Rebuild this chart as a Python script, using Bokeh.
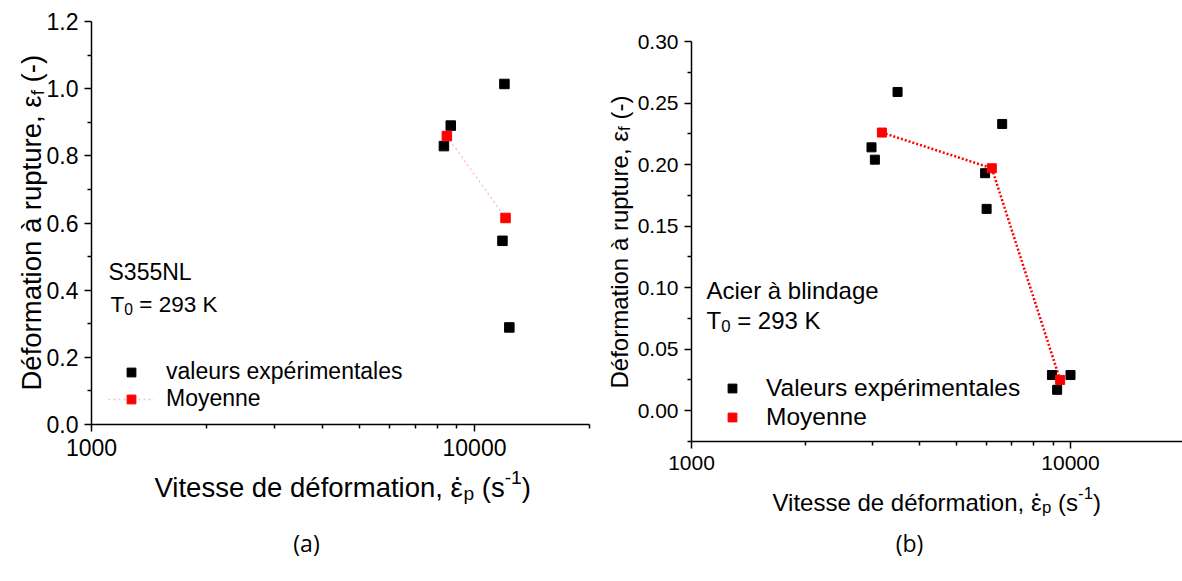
import math
from bokeh.plotting import figure
from bokeh.layouts import row
from bokeh.models import (Range1d, Label, Legend, LegendItem, FixedTicker,
                          PrintfTickFormatter, LogAxis, LinearAxis)
from bokeh.embed import file_html
from bokeh.resources import INLINE

# ---------------- data ----------------
# (a) S355NL
exp_x_a = [8320, 8670, 11970, 11830, 12330]
exp_y_a = [0.829, 0.890, 1.014, 0.547, 0.289]
mean_x_a = [8470, 12050]
mean_y_a = [0.859, 0.615]

# (b) Acier à blindage
exp_x_b = [2985, 3047, 3497, 5953, 6007, 6603, 8933, 9220, 10000]
exp_y_b = [0.214, 0.204, 0.259, 0.193, 0.164, 0.233, 0.029, 0.017, 0.029]
mean_x_b = [3180, 6200, 9390]
mean_y_b = [0.226, 0.197, 0.025]

x_bounds = (1000, 20000)
x_major = [1000, 10000]
x_minor = [2000, 3000, 4000, 5000, 6000, 7000, 8000, 9000, 20000]
y_bounds_a = (0.0, 1.2)
y_major_a = [0.0, 0.2, 0.4, 0.6, 0.8, 1.0, 1.2]
y_minor_a = [0.1, 0.3, 0.5, 0.7, 0.9, 1.1]
y_bounds_b = (-0.025, 0.30)
y_major_b = [0.0, 0.05, 0.10, 0.15, 0.20, 0.25, 0.30]
y_minor_b = [-0.025, 0.025, 0.075, 0.125, 0.175, 0.225, 0.275]

FONT = "Liberation Sans"
H = 575
NB = "\u00a0"

# Arial / Liberation Sans advance widths (per em)
W = {' ': .278, NB: .278, '(': .333, ')': .333, ',': .278, '-': .333, '.': .278, '=': .584,
     'A': .667, 'D': .722, 'K': .667, 'L': .556, 'N': .722, 'S': .667, 'T': .611, 'V': .667,
     'a': .556, 'b': .556, 'c': .5, 'd': .556, 'e': .556, 'f': .278, 'g': .556, 'i': .222,
     'l': .222, 'm': .833, 'n': .556, 'o': .556, 'p': .556, 'r': .333, 's': .5, 't': .278,
     'u': .556, 'v': .5, 'x': .5, 'y': .5, 'é': .556, 'à': .556, 'ε': .45}
for d in "0123456789":
    W[d] = .556


def tw(s, size):
    return sum(W.get(c, .55) for c in s) * size


def put(p, x, y, text, size, font=FONT, angle=0.0, align="left", baseline="alphabetic"):
    # x, y: pixels from the canvas' bottom-left corner (the frame fills the canvas)
    p.add_layout(Label(x=x, y=y, x_units="screen", y_units="screen", text=text,
                       text_font_size=f"{size:.1f}px", text_font=font, angle=angle,
                       text_color="black", text_align=align, text_baseline=baseline))


def rich(p, segs, x0, y0, size, vertical=False):
    pos = 0.0
    last_char_w = 0.0
    for text, kind in segs:
        if kind == "over":
            # dot placed above the previous character
            c = pos - last_char_w / 2
            lift = 0.62 * size
            if vertical:
                put(p, x0 - lift, y0 + c, text, size, angle=math.pi / 2, align="center")
            else:
                put(p, x0 + c, y0 + lift, text, size, align="center")
            continue
        if kind == "n":
            fs, off = size, 0.0
        elif kind == "sub":
            fs, off = size * 0.7, -0.22 * size
        else:
            fs, off = size * 0.7, 0.38 * size
        if vertical:
            put(p, x0 - off, y0 + pos, text, fs, angle=math.pi / 2)
        else:
            put(p, x0 + pos, y0 + off, text, fs)
        last_char_w = tw(text[-1], fs)
        pos += tw(text, fs)


YLAB = [("Déformation à rupture, ε", "n"), ("f", "sub"), (NB + "(-)", "n")]
XLAB = [("Vitesse de déformation, ε", "n"), (".", "over"), ("p", "sub"), (NB + "(s", "n"),
        ("-1", "sup"), (")", "n")]
TLAB = [("T", "n"), ("0", "sub"), (NB + "= 293 K", "n")]


def make_panel(width, xpx0, xpx1, ybounds, ypx_top, ypx_bot, ymaj, ymin, yfmt, tick_fs):
    # x: 1000 at pixel xpx0, 10000 at pixel xpx1 ; y: ybounds[1] at ypx_top, ybounds[0] at ypx_bot
    dec = xpx1 - xpx0
    xlo = 10 ** (3 - xpx0 / dec)
    xhi = 10 ** (3 + (width - xpx0) / dec)
    k = (ybounds[1] - ybounds[0]) / (ypx_bot - ypx_top)
    ylo = ybounds[0] - k * (H - ypx_bot)
    yhi = ybounds[1] + k * ypx_top
    p = figure(width=width, height=H, x_axis_type="log",
               x_range=Range1d(xlo, xhi), y_range=Range1d(ylo, yhi),
               x_axis_location=None, y_axis_location=None,
               output_backend="svg", toolbar_location=None, frame_align=False, min_border=0,
               min_border_left=0, min_border_right=0, min_border_top=0, min_border_bottom=0)
    p.title.visible = False
    p.grid.visible = False
    p.outline_line_color = None
    p.background_fill_color = "white"
    p.border_fill_color = "white"
    xa = LogAxis(fixed_location=ybounds[0], bounds=x_bounds,
                 ticker=FixedTicker(ticks=x_major, minor_ticks=x_minor),
                 formatter=PrintfTickFormatter(format="%d"))
    ya = LinearAxis(fixed_location=x_bounds[0], bounds=ybounds,
                    ticker=FixedTicker(ticks=ymaj, minor_ticks=ymin),
                    formatter=PrintfTickFormatter(format=yfmt))
    for ax in (xa, ya):
        ax.axis_line_width = 1.5
        ax.axis_line_color = "black"
        ax.major_tick_line_width = 1.5
        ax.minor_tick_line_width = 1.5
        ax.major_tick_line_color = "black"
        ax.minor_tick_line_color = "black"
        ax.major_tick_in = 0
        ax.major_tick_out = 7
        ax.minor_tick_in = 0
        ax.minor_tick_out = 4
        ax.major_label_text_font = FONT
        ax.major_label_text_font_size = f"{tick_fs}px"
        ax.major_label_text_color = "black"
    xa.major_label_standoff = 7
    ya.major_label_standoff = 6
    p.add_layout(xa, "below")
    p.add_layout(ya, "left")
    return p


# ---------------- panel (a) : canvas at page x 0 ----------------
pa = make_panel(600, 91, 474, y_bounds_a, 21, 424, y_major_a, y_minor_a, "%.1f", 23)
la = pa.line(mean_x_a, mean_y_a, line_color="red", line_alpha=0.25, line_width=1.5, line_dash="2 3")
sa = pa.scatter(exp_x_a, exp_y_a, marker="square", size=9.5, fill_color="black", line_color="black")
ma = pa.scatter(mean_x_a, mean_y_a, marker="square", size=9.5, fill_color="red", line_color="red")


def fa(px, py):
    return px, H - py


leg_a = Legend(items=[LegendItem(label="valeurs expérimentales", renderers=[sa]),
                      LegendItem(label="Moyenne", renderers=[la, ma])],
               location=fa(108, 412), glyph_width=46, glyph_height=22, label_height=22,
               spacing=0, padding=0, margin=0, label_standoff=12,
               label_text_font=FONT, label_text_font_size="23px", label_text_color="black",
               border_line_color=None, background_fill_alpha=0)
pa.add_layout(leg_a)

x, y = fa(108, 271)
put(pa, x, y, "S355NL", 23)
x, y = fa(110, 304)
rich(pa, TLAB, x, y, 22.5)
x, y = fa(154, 487)
rich(pa, XLAB, x, y, 27.5)
x, y = fa(31, 390)
rich(pa, YLAB, x, y, 27.5, vertical=True)
x, y = fa(306, 542)
put(pa, x, y, "(a)", 23, font="Open Sans", align="center", baseline="middle")

# ---------------- panel (b) : canvas at page x 600 ----------------
pb = make_panel(582, 91, 470, y_bounds_b, 41, 441, y_major_b, y_minor_b, "%.2f", 21)
lb = pb.line(mean_x_b, mean_y_b, line_color="red", line_width=2.5, line_dash="2 2")
sb = pb.scatter(exp_x_b, exp_y_b, marker="square", size=9, fill_color="black", line_color="black")
mb = pb.scatter(mean_x_b, mean_y_b, marker="square", size=9, fill_color="red", line_color="red")


def fb(px, py):
    return px - 600, H - py


leg_b = Legend(items=[LegendItem(label="Valeurs expérimentales", renderers=[sb]),
                      LegendItem(label="Moyenne", renderers=[mb])],
               location=fb(714, 431), glyph_width=36, glyph_height=22, label_height=22,
               spacing=1, padding=0, margin=0, label_standoff=16,
               label_text_font=FONT, label_text_font_size="24.5px", label_text_color="black",
               border_line_color=None, background_fill_alpha=0)
pb.add_layout(leg_b)

x, y = fb(706, 290)
put(pb, x, y, "Acier à blindage", 24)
x, y = fb(706, 320)
rich(pb, TLAB, x, y, 24)
x, y = fb(772, 502)
rich(pb, XLAB, x, y, 24)
x, y = fb(619, 388)
rich(pb, YLAB, x, y, 24, vertical=True)
x, y = fb(909, 542)
put(pb, x, y, "(b)", 23, font="Open Sans", align="center", baseline="middle")

layout = row(pa, pb)
open("out.html", "w").write(file_html(layout, INLINE))
